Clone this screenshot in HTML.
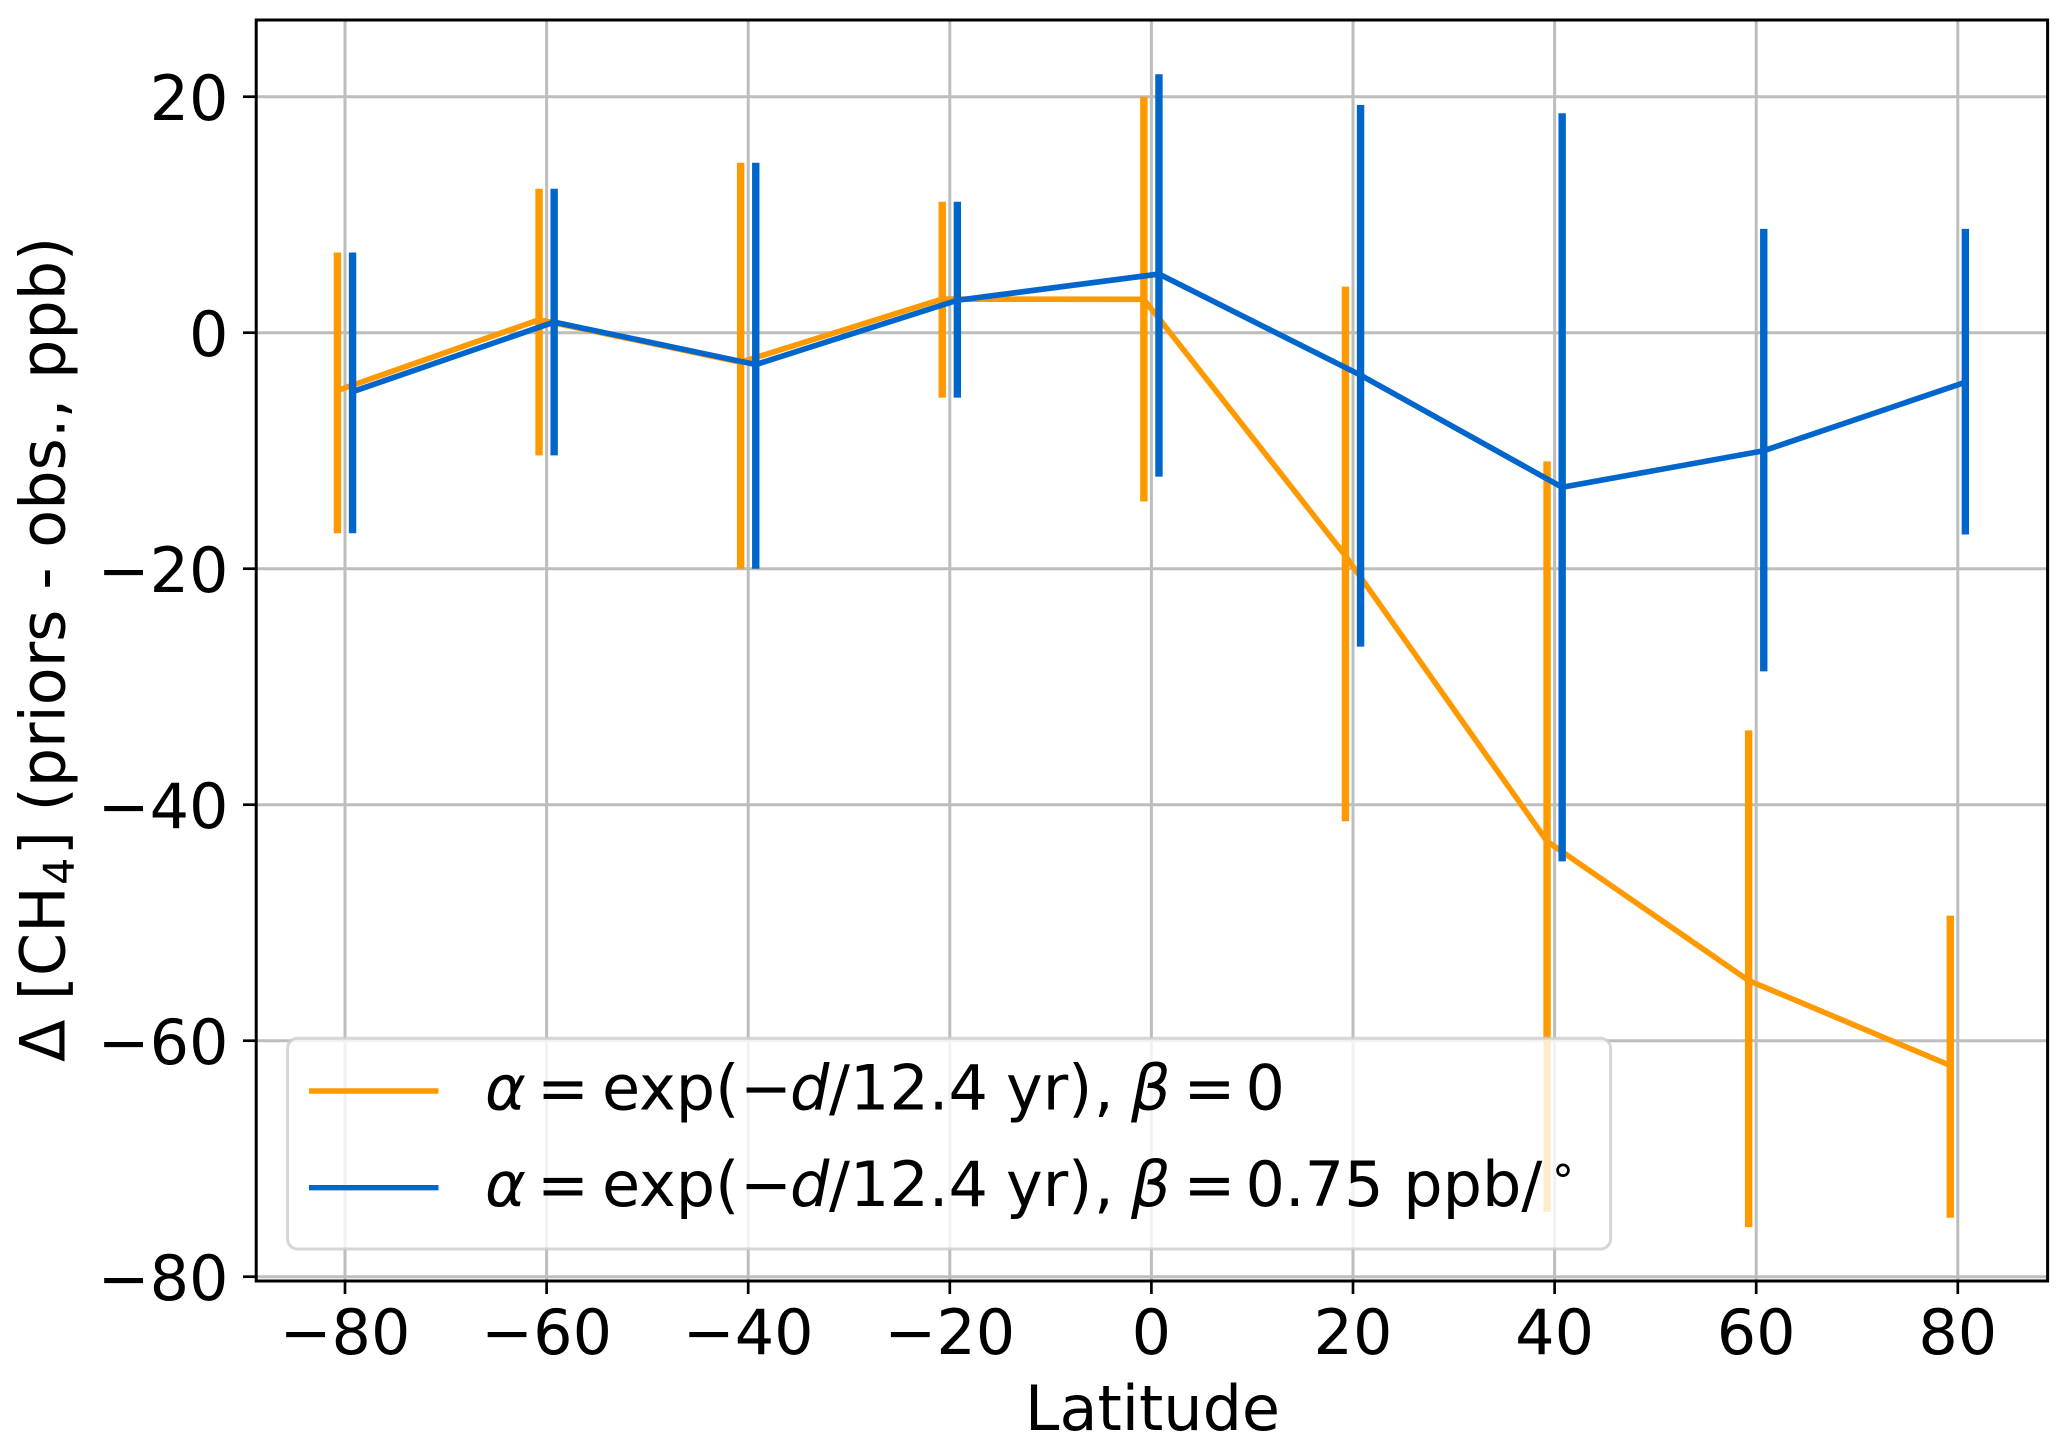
<!DOCTYPE html>
<html lang="en">
<head>
<meta charset="utf-8">
<title>Delta CH4 by latitude</title>
<style>
html,body{margin:0;padding:0;background:#fff;}
svg{display:block;}
text{font-family:"DejaVu Sans","Liberation Sans",sans-serif;fill:#000;}
.lg{font-size:62px;}
.it{font-style:italic;}
</style>
</head>
<body>
<svg id="chart" xmlns="http://www.w3.org/2000/svg" width="2067" height="1449" viewBox="0 0 2067 1449">
  <rect x="0" y="0" width="2067" height="1449" fill="#fff"/>
  <g id="grid"></g>
  <g id="marks"></g>
  <rect x="256.2" y="20" width="1791.4" height="1261" fill="none" stroke="#000" stroke-width="3"/>
  <g id="ticks"></g>

  <text x="1152.5" y="1430" text-anchor="middle" font-size="62">Latitude</text>
  <g font-size="62">
    <text transform="translate(64.5,1062) rotate(-90)">Δ</text>
    <text transform="translate(64.5,1000.3) rotate(-90)">[CH</text>
    <text transform="translate(74,885) rotate(-90)" font-size="43">4</text>
    <text transform="translate(64.5,855.3) rotate(-90)">]</text>
    <text transform="translate(64.5,811.5) rotate(-90)">(priors - obs., ppb)</text>
  </g>

  <g>
    <rect x="287.6" y="1038.3" width="1323" height="210.7" rx="10" ry="10" fill="#fff" fill-opacity="0.8" stroke="#ccc" stroke-opacity="0.8" stroke-width="3"/>
    <line x1="309" x2="438.5" y1="1091" y2="1091" stroke="#ff9900" stroke-width="5.4"/>
    <line x1="309" x2="438.5" y1="1187.7" y2="1187.7" stroke="#0066cc" stroke-width="5.4"/>
    <g class="lg">
      <text class="lg it" x="485" y="1109.5">α</text>
      <text class="lg" x="537" y="1109.5">=</text>
      <text class="lg" x="602" y="1109.5">exp(</text>
      <text class="lg" x="740" y="1109.5">−</text>
      <text class="lg it" x="790" y="1109.5">d</text>
      <text class="lg" x="829" y="1109.5">/12.4</text>
      <text class="lg" x="1006" y="1109.5">yr)</text>
      <text class="lg" x="1094" y="1109.5">,</text>
      <text class="lg it" x="1131" y="1109.5">β</text>
      <text class="lg" x="1183.5" y="1109.5">=</text>
      <text class="lg" x="1245.5" y="1109.5">0</text>
    </g>
    <g class="lg">
      <text class="lg it" x="485" y="1206">α</text>
      <text class="lg" x="537" y="1206">=</text>
      <text class="lg" x="602" y="1206">exp(</text>
      <text class="lg" x="740" y="1206">−</text>
      <text class="lg it" x="790" y="1206">d</text>
      <text class="lg" x="829" y="1206">/12.4</text>
      <text class="lg" x="1006" y="1206">yr)</text>
      <text class="lg" x="1094" y="1206">,</text>
      <text class="lg it" x="1131" y="1206">β</text>
      <text class="lg" x="1183.5" y="1206">=</text>
      <text class="lg" x="1245.5" y="1206">0.75 ppb/</text>
      <text x="1552" y="1196" font-size="44">°</text>
    </g>
  </g>
</svg>
<script>
var latitudes = [-80, -60, -40, -20, 0, 20, 40, 60, 80];
var orangeMean = [-4.9, 1.1, -2.5, 2.85, 2.83, -18.9, -43.1, -54.9, -62.1];
var orangeUpper = [6.8, 12.2, 14.4, 11.1, 20, 3.9, -10.9, -33.7, -49.4];
var orangeLower = [-17, -10.4, -20, -5.5, -14.3, -41.4, -74.5, -75.8, -75];
var blueMean = [-5, 0.9, -2.7, 2.75, 4.97, -3.6, -13.1, -10, -4.2];
var blueUpper = [6.8, 12.2, 14.4, 11.1, 21.9, 19.3, 18.6, 8.8, 8.8];
var blueLower = [-17, -10.4, -20, -5.5, -12.2, -26.6, -44.8, -28.7, -17.1];
var xTicks = [-80, -60, -40, -20, 0, 20, 40, 60, 80];
var yTicks = [20, 0, -20, -40, -60, -80];

var NS = 'http://www.w3.org/2000/svg';
function xScale(v) { return 1151.4 + v * 10.08; }
function yScale(v) { return 332.7 - v * 11.8; }
function label(v) { return String(v).replace('-', '\u2212'); }

var gridG = document.getElementById('grid');
var marksG = document.getElementById('marks');
var ticksG = document.getElementById('ticks');

function makeLine(parent, x1, y1, x2, y2, color, width) {
  var l = document.createElementNS(NS, 'line');
  l.setAttribute('x1', x1);
  l.setAttribute('y1', y1);
  l.setAttribute('x2', x2);
  l.setAttribute('y2', y2);
  l.setAttribute('stroke', color);
  l.setAttribute('stroke-width', width);
  parent.appendChild(l);
  return l;
}

function makeText(parent, x, y, anchor, str) {
  var t = document.createElementNS(NS, 'text');
  t.setAttribute('x', x);
  t.setAttribute('y', y);
  t.setAttribute('text-anchor', anchor);
  t.setAttribute('font-size', '62');
  t.textContent = str;
  parent.appendChild(t);
  return t;
}

xTicks.forEach(function (v) {
  var px = xScale(v);
  var g = makeLine(gridG, px, 20, px, 1281, '#bdbdbd', 3);
  
  
  var k = makeLine(ticksG, px, 1281, px, 1294, '#000', 2.7);
  
  
  var t = makeText(ticksG, px, 1354, 'middle', label(v));
  
  
});

yTicks.forEach(function (v) {
  var py = yScale(v);
  var g = makeLine(gridG, 256.7, py, 2047.6, py, '#bdbdbd', 3);
  
  
  var k = makeLine(ticksG, 243, py, 256.2, py, '#000', 2.7);
  
  
  var t = makeText(ticksG, 228.5, py + 23.5, 'end', label(v));
  
  
});

function drawSeries(name, color, offset, means, uppers, lowers) {
  var g = document.createElementNS(NS, 'g');
  
  
  marksG.appendChild(g);
  latitudes.forEach(function (lat, i) {
    var px = xScale(lat + offset);
    var b = makeLine(g, px, yScale(uppers[i]), px, yScale(lowers[i]), color, 7.4);
    
    
  });
  var pts = latitudes.map(function (lat, i) {
    return xScale(lat + offset) + ',' + yScale(means[i]);
  }).join(' ');
  var p = document.createElementNS(NS, 'polyline');
  
  
  p.setAttribute('points', pts);
  p.setAttribute('fill', 'none');
  p.setAttribute('stroke', color);
  p.setAttribute('stroke-width', '5.6');
  p.setAttribute('stroke-linejoin', 'round');
  g.appendChild(p);
}

drawSeries('orange', '#ff9900', -0.75, orangeMean, orangeUpper, orangeLower);
drawSeries('blue', '#0066cc', 0.75, blueMean, blueUpper, blueLower);
</script>
</body>
</html>
